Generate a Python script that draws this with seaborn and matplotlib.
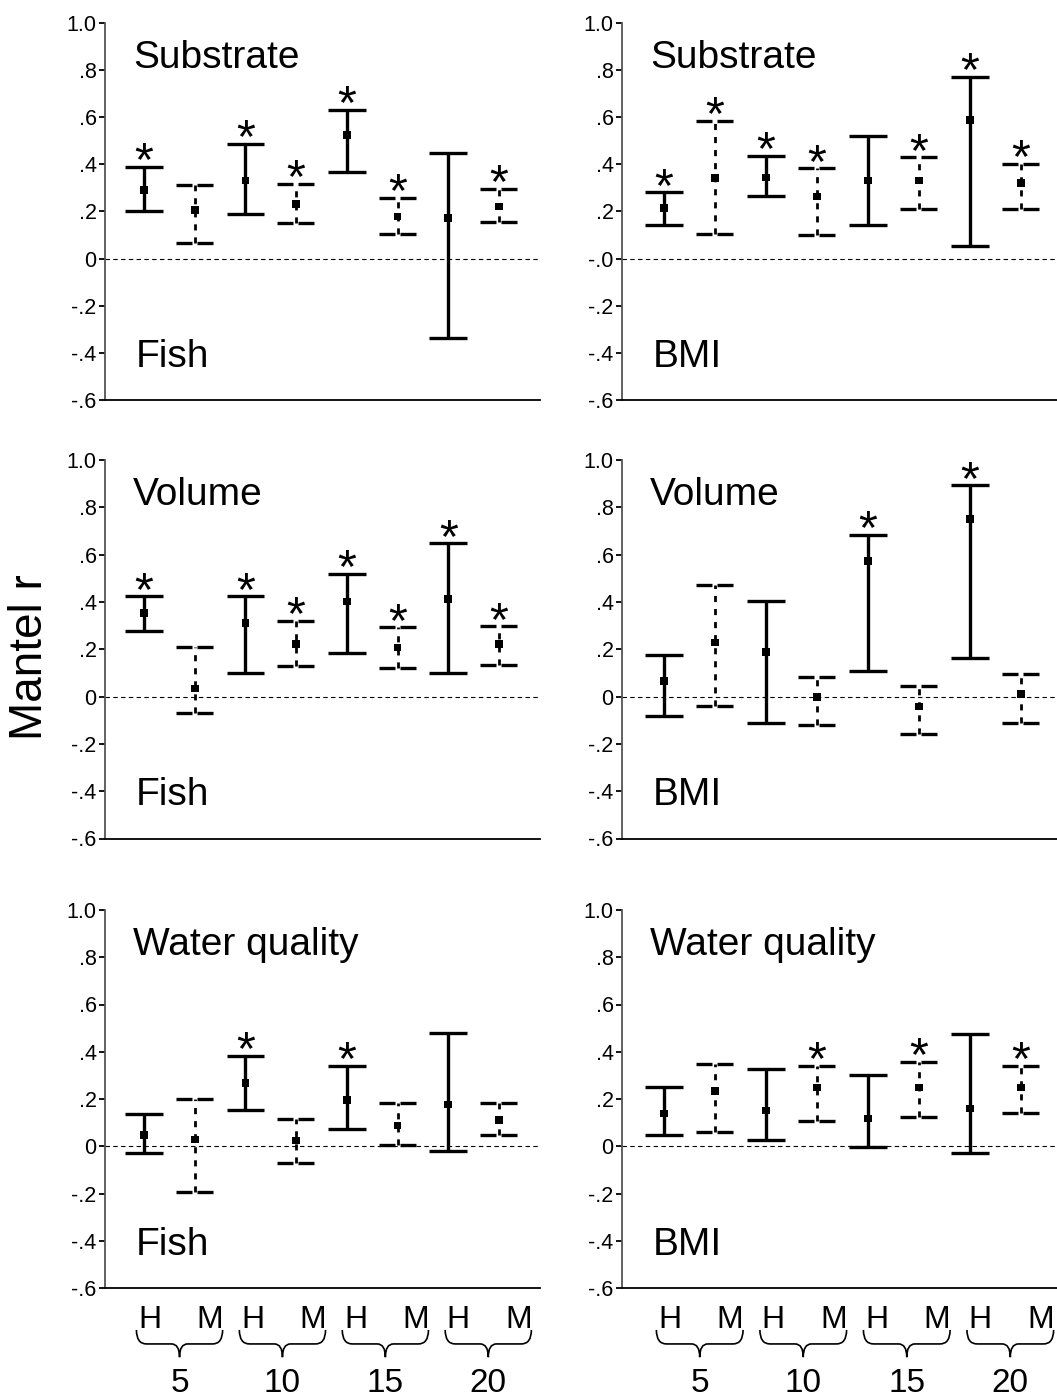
import numpy as np
import pandas as pd
import matplotlib
matplotlib.use("Agg")
import matplotlib.pyplot as plt
import seaborn as sns
from matplotlib.path import Path
from matplotlib.patches import PathPatch
from matplotlib.transforms import blended_transform_factory

# ---------------- data ----------------
methods = ["H", "M", "H", "M", "H", "M", "H", "M"]
group_sizes = ["5", "10", "15", "20"]
ytick_values = [1.0, 0.8, 0.6, 0.4, 0.2, 0.0, -0.2, -0.4, -0.6]
ytick_labels = ["1.0", ".8", ".6", ".4", ".2", "0", "-.2", "-.4", "-.6"]
ytick_labels_alt = ["1.0", ".8", ".6", ".4", ".2", "-.0", "-.2", "-.4", "-.6"]

# Substrate - Fish
fish_sub_mid = [0.29, 0.207, 0.33, 0.232, 0.523, 0.178, 0.171, 0.221]
fish_sub_lo = [0.20, 0.064, 0.19, 0.149, 0.368, 0.106, -0.337, 0.154]
fish_sub_hi = [0.389, 0.313, 0.485, 0.318, 0.631, 0.257, 0.447, 0.296]
fish_sub_sig = [1, 0, 1, 1, 1, 1, 0, 1]

# Substrate - BMI
bmi_sub_mid = [0.214, 0.341, 0.344, 0.263, 0.33, 0.33, 0.587, 0.32]
bmi_sub_lo = [0.144, 0.103, 0.264, 0.098, 0.14, 0.209, 0.051, 0.212]
bmi_sub_hi = [0.281, 0.584, 0.434, 0.382, 0.52, 0.429, 0.769, 0.402]
bmi_sub_sig = [1, 1, 1, 1, 0, 1, 1, 1]

# Volume - Fish
fish_vol_mid = [0.352, 0.034, 0.312, 0.221, 0.402, 0.208, 0.412, 0.221]
fish_vol_lo = [0.277, -0.069, 0.098, 0.129, 0.186, 0.12, 0.098, 0.132]
fish_vol_hi = [0.423, 0.208, 0.423, 0.321, 0.519, 0.293, 0.648, 0.297]
fish_vol_sig = [1, 0, 1, 1, 1, 1, 1, 1]

# Volume - BMI
bmi_vol_mid = [0.065, 0.228, 0.188, -0.003, 0.574, -0.042, 0.75, 0.011]
bmi_vol_lo = [-0.084, -0.038, -0.113, -0.122, 0.11, -0.159, 0.162, -0.113]
bmi_vol_hi = [0.176, 0.471, 0.406, 0.082, 0.685, 0.045, 0.893, 0.096]
bmi_vol_sig = [0, 0, 0, 0, 1, 0, 1, 0]

# Water quality - Fish
fish_wq_mid = [0.047, 0.028, 0.269, 0.025, 0.196, 0.087, 0.176, 0.11]
fish_wq_lo = [-0.027, -0.192, 0.154, -0.071, 0.075, 0.004, -0.018, 0.047]
fish_wq_hi = [0.138, 0.20, 0.384, 0.116, 0.341, 0.181, 0.478, 0.181]
fish_wq_sig = [0, 0, 1, 0, 1, 0, 0, 0]

# Water quality - BMI
bmi_wq_mid = [0.139, 0.235, 0.152, 0.249, 0.118, 0.249, 0.16, 0.249]
bmi_wq_lo = [0.049, 0.062, 0.028, 0.107, -0.004, 0.125, -0.028, 0.139]
bmi_wq_hi = [0.25, 0.35, 0.328, 0.339, 0.302, 0.357, 0.477, 0.339]
bmi_wq_sig = [0, 0, 0, 1, 0, 1, 0, 1]

# ---------------- style ----------------
sns.set_theme(style="ticks")
plt.rcParams["font.family"] = ["Liberation Sans", "DejaVu Sans"]
plt.rcParams["text.color"] = "black"

W, H = 1057, 1397
fig = plt.figure(figsize=(W / 100, H / 100), dpi=100)

col_left = [105 / W, 622 / W]
col_width = 435 / W
col_xlim = [(0.23, 8.81), (0.176, 8.706)]
rows = [(22.7, 400.0), (460.0, 838.5), (910.0, 1288.0)]

panels = [
    ("Substrate", "Fish", fish_sub_mid, fish_sub_lo, fish_sub_hi, fish_sub_sig, ytick_labels),
    ("Substrate", "BMI", bmi_sub_mid, bmi_sub_lo, bmi_sub_hi, bmi_sub_sig, ytick_labels_alt),
    ("Volume", "Fish", fish_vol_mid, fish_vol_lo, fish_vol_hi, fish_vol_sig, ytick_labels),
    ("Volume", "BMI", bmi_vol_mid, bmi_vol_lo, bmi_vol_hi, bmi_vol_sig, ytick_labels),
    ("Water quality", "Fish", fish_wq_mid, fish_wq_lo, fish_wq_hi, fish_wq_sig, ytick_labels),
    ("Water quality", "BMI", bmi_wq_mid, bmi_wq_lo, bmi_wq_hi, bmi_wq_sig, ytick_labels),
]

cap_half = 0.37
for k, (title, taxon, mid, lo, hi, sig, ylabels) in enumerate(panels):
    r, c = divmod(k, 2)
    top_px, bot_px = rows[r]
    ax = fig.add_axes([col_left[c], 1 - bot_px / H, col_width, (bot_px - top_px) / H])
    x = np.arange(1, len(methods) + 1)
    df = pd.DataFrame({"pos": x, "r": mid, "lo": lo, "hi": hi,
                       "method": methods, "sig": sig})

    ax.axhline(0, color="black", lw=0.8, ls=(0, (4, 3)), zorder=1)

    for _, row in df.iterrows():
        if row["method"] == "H":
            ax.vlines(row["pos"], row["lo"], row["hi"], color="black", lw=2.4, zorder=3)
            ax.hlines([row["lo"], row["hi"]], row["pos"] - cap_half, row["pos"] + cap_half,
                      color="black", lw=2.4, zorder=3)
        else:
            ax.vlines(row["pos"], row["lo"], row["hi"], color="black", lw=2.0,
                      linestyles=[(0, (2.2, 2.5))], zorder=3)
            ax.hlines([row["lo"], row["hi"]], row["pos"] - cap_half, row["pos"] + cap_half,
                      color="black", lw=2.4, linestyles=[(0, (4.8, 1.5))], zorder=3)
        if row["sig"]:
            ax.annotate("*", xy=(row["pos"], row["hi"]), xytext=(0, -6),
                        textcoords="offset points", ha="center", va="baseline",
                        fontsize=35, color="black")

    sns.scatterplot(data=df, x="pos", y="r", marker="s", s=30, color="black",
                    edgecolor="none", ax=ax, legend=False, zorder=5)

    ax.set_xlim(*col_xlim[c])
    ax.set_ylim(-0.6, 1.0)
    ax.set_xticks([])
    ax.set_yticks(ytick_values)
    ax.set_yticklabels(ylabels)
    ax.set_xlabel("")
    ax.set_ylabel("")
    ax.tick_params(axis="y", length=4, width=1.3, color="black", pad=2,
                   labelsize=15.5, labelcolor="black")
    sns.despine(ax=ax)
    ax.spines["left"].set_color("#555555")
    ax.spines["left"].set_linewidth(1.3)
    ax.spines["bottom"].set_color("black")
    ax.spines["bottom"].set_linewidth(1.3)
    ax.set_facecolor("white")

    ax.text(0.065, 0.88, title, transform=ax.transAxes, fontsize=28,
            ha="left", va="baseline", color="black")
    ax.text(0.07, 0.088, taxon, transform=ax.transAxes, fontsize=28,
            ha="left", va="baseline", color="black")

    if r == 2:
        tr = blended_transform_factory(ax.transData, ax.transAxes)
        for g, size in enumerate(group_sizes):
            cx = 1.70 + 2.03 * g
            ax.text(cx - 0.59, -0.106, "H", transform=tr, fontsize=23,
                    ha="center", va="baseline", clip_on=False, color="black")
            ax.text(cx + 0.59, -0.106, "M", transform=tr, fontsize=23,
                    ha="center", va="baseline", clip_on=False, color="black")
            ax.text(cx, -0.276, size, transform=tr, fontsize=24,
                    ha="center", va="baseline", clip_on=False, color="black")
            L, R = cx - 0.85, cx + 0.85
            yt, ym, yb = -0.111, -0.148, -0.183
            rr, rt = 0.2, 0.16
            verts = [(L, yt), (L, ym), (L + rr, ym),
                     (cx - rt, ym),
                     (cx, ym), (cx, yb),
                     (cx, ym), (cx + rt, ym),
                     (R - rr, ym),
                     (R, ym), (R, yt)]
            codes = [Path.MOVETO, Path.CURVE3, Path.CURVE3,
                     Path.LINETO,
                     Path.CURVE3, Path.CURVE3,
                     Path.CURVE3, Path.CURVE3,
                     Path.LINETO,
                     Path.CURVE3, Path.CURVE3]
            patch = PathPatch(Path(verts, codes), fill=False, lw=1.2,
                              edgecolor="black", transform=tr, clip_on=False)
            ax.add_patch(patch)

fig.text(30 / W, 1 - 657 / H, "Mantel r", rotation=90, ha="center", va="center",
         fontsize=33, color="black")

fig.savefig("out.png", dpi=100, facecolor="white")
